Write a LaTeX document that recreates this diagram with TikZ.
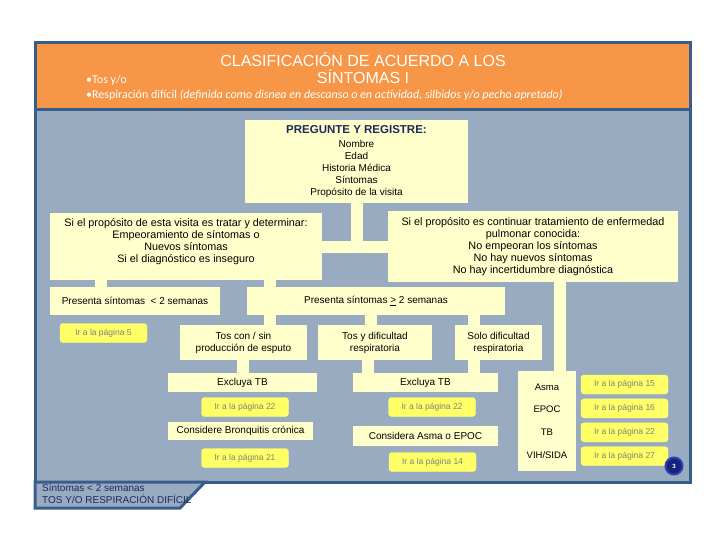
\documentclass[tikz,border=0pt]{standalone}
\usepackage{fontspec}
\setmainfont{Liberation Sans}
\newfontfamily\calibri{Carlito}
\usetikzlibrary{positioning}
\definecolor{naranja}{RGB}{247,150,70}
\definecolor{fondo}{RGB}{152,171,192}
\definecolor{borde}{RGB}{56,93,138}
\definecolor{crema}{RGB}{255,255,204}
\definecolor{amarillo}{RGB}{255,255,102}
\definecolor{marino}{RGB}{31,42,90}

\begin{document}
\begin{tikzpicture}[
    x=1pt, y=-1pt,
    node distance=4.5pt,
    caja/.style={fill=crema, align=center, inner sep=2pt, font=\fontsize{10}{12}\selectfont},
    ancha/.style={caja, font=\fontsize{10.8}{12}\selectfont},
    boton/.style={fill=amarillo, draw=amarillo!85!white, rounded corners=3pt, minimum width=87pt, minimum height=19pt, inner sep=0pt, font=\fontsize{8.5}{10}\selectfont, text=black!50},
    vineta/.style={anchor=west, text=white, inner sep=0pt, font=\calibri\fontsize{12}{12}\selectfont},
    enlace/.style={draw=crema, line width=12pt}
  ]
    \useasboundingbox (0,0) rectangle (720,540);
    % marco de la diapositiva
    \fill[fondo] (36,44) rectangle (689,481);
    \fill[naranja] (36,44) rectangle (689,109);
    \draw[borde, line width=3pt] (35,43) rectangle (690,482);
    \draw[borde, line width=3pt] (35,110) -- (690,110);
    \filldraw[fill=fondo, draw=borde, line width=3pt] (35,482) -- (205,482) -- (180,508) -- (35,508) -- cycle;

    \node[text=white, align=center, font=\fontsize{16}{17}\selectfont] (titulo) at (363,68.5) {CLASIFICACIÓN DE ACUERDO A LOS\\SÍNTOMAS I};
    \node[vineta] (tos) at (86,80) {•Tos y/o};
    \node[vineta] (resp) at (86,95) {•Respiración difícil \textit{(definida como disnea en descanso o en actividad, silbidos y/o pecho apretado)}};

    \node[caja, minimum width=223pt, minimum height=83pt] (preg) at (356.5,161.5) {{\fontsize{11.5}{12}\selectfont\bfseries\color{marino}PREGUNTE Y REGISTRE:}\\[2pt]Nombre\\Edad\\Historia Médica\\Síntomas\\Propósito de la visita};
    \node[ancha, minimum width=272pt, minimum height=67pt] (izq) at (186,246.5) {Si el propósito de esta visita es tratar y determinar:\\Empeoramiento de síntomas o\\Nuevos síntomas\\Si el diagnóstico es inseguro\\};
    \node[ancha, minimum width=290pt, minimum height=71pt] (der) at (533,246.5) {Si el propósito es continuar tratamiento de enfermedad\\pulmonar conocida:\\No empeoran los síntomas\\No hay nuevos síntomas\\No hay incertidumbre diagnóstica};

    \node[caja, minimum width=170pt, minimum height=28pt] (menos) at (135,301) {Presenta síntomas \ < 2 semanas};
    \node[caja, minimum width=258pt, minimum height=28pt] (mas) at (376,301) {Presenta síntomas \underline{>} 2 semanas};
    \node[boton] (pag5) at (103.5,333) {Ir a la página 5};

    \node[caja, minimum width=127pt, minimum height=35pt] (tosesp) at (243.5,342.5) {Tos con / sin\\producción de esputo};
    \node[caja, minimum width=114pt, minimum height=35pt] (tosdif) at (375,342.5) {Tos y dificultad\\respiratoria};
    \node[caja, minimum width=87pt, minimum height=35pt] (solodif) at (498.5,342.5) {Solo dificultad\\respiratoria};

    \node[caja, minimum width=149pt, minimum height=19pt] (exc1) at (242.5,382.5) {Excluya TB};
    \node[caja, minimum width=145pt, minimum height=19pt] (exc2) at (425.5,382.5) {Excluya TB};
    \node[boton] (pag22a) at (245,407) {Ir a la página 22};
    \node[boton] (pag22b) at (432,407) {Ir a la página 22};
    \node[caja, minimum width=145pt, minimum height=18pt] (bronq) at (240.5,431) {Considere Bronquitis crónica};
    \node[caja, minimum width=145pt, minimum height=20pt] (asmaepoc) at (425.5,436) {Considera Asma o EPOC};
    \node[boton] (pag21) at (245,458) {Ir a la página 21};
    \node[boton] (pag14) at (432.5,462) {Ir a la página 14};

    \node[caja, minimum width=58pt, minimum height=100pt, font=\fontsize{9.5}{22.7}\selectfont] (lista) at (547,421) {Asma\\EPOC\\TB\\VIH/SIDA};
    \node[boton] (pag15) at (624.5,384.5) {Ir a la página 15};
    \node[boton, below=of pag15] (pag16) {Ir a la página 16};
    \node[boton, below=of pag16] (pag22c) {Ir a la página 22};
    \node[boton, below=of pag22c] (pag27) {Ir a la página 27};

    \node[circle, fill=marino!80!blue, draw=borde!70!blue, line width=2pt, minimum size=17pt, inner sep=0pt, text=white, font=\fontsize{6}{6}\selectfont\bfseries] (pagina) at (674,466) {3};
    \node[anchor=west, align=left, inner sep=0pt, text=marino, font=\fontsize{10}{12}\selectfont] (pie) at (42,494) {Síntomas < 2 semanas\\TOS Y/O RESPIRACIÓN DIFÍCIL};

    % conectores
    \draw[enlace] (preg.south) |- (izq.east);
    \draw[enlace] (preg.south) |- (der.west);
    \draw[enlace] ([xshift=-85pt]izq.south) -- ([xshift=-34pt]menos.north);
    \draw[enlace] ([xshift=84pt]izq.south) -- ([xshift=-106pt]mas.north);
    \draw[enlace] ([xshift=-106pt]mas.south) -- ([xshift=26.5pt]tosesp.north);
    \draw[enlace] ([xshift=-5pt]mas.south) -- ([xshift=-4pt]tosdif.north);
    \draw[enlace] ([xshift=98pt]mas.south) -- ([xshift=-24.5pt]solodif.north);
    \draw[enlace] ([xshift=-1pt]tosesp.south) -- (exc1.north);
    \draw[enlace] ([xshift=-7pt]tosdif.south) -- ([xshift=-57.5pt]exc2.north);
    \draw[enlace] ([xshift=-24.5pt]solodif.south) -- ([xshift=48.5pt]exc2.north);
    \draw[enlace] ([xshift=27pt]der.south) -- ([xshift=13pt]lista.north);
  \end{tikzpicture}
\end{document}
